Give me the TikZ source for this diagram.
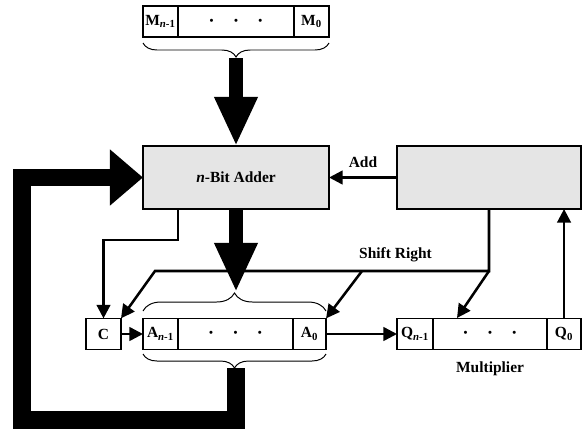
\documentclass[tikz,border=0pt]{standalone}
\usepackage{fontspec}
\setmainfont{Liberation Serif}
\usetikzlibrary{positioning,arrows.meta,decorations.pathreplacing}
\newcommand{\regdot}{\makebox[0pt]{\fontsize{8}{8}\selectfont\textbullet}}
\newcommand{\regdots}{\regdot\hspace{17.3pt}\regdot\hspace{17.3pt}\regdot}
\newcommand{\subn}[1]{\textsubscript{\textit{n}-#1}}
\begin{document}
\begin{tikzpicture}[x=0.025cm, y=-0.025cm,
    every node/.style={font=\fontsize{11}{13}\selectfont\bfseries},
    reg/.style={draw, line width=1pt, minimum height=0.78cm, inner sep=0pt, outer sep=0pt},
    unit/.style={draw, line width=1pt, fill=gray!20, minimum height=1.575cm, inner sep=0pt, outer sep=0pt},
    thinarr/.style={line width=1.8pt, -{Triangle[length=0.34cm, width=0.34cm]}},
    bigdown/.style={line width=0.36cm, -{Triangle[length=1.225cm, width=1cm]}},
    bigback/.style={line width=0.44cm, -{Triangle[length=0.825cm, width=1.35cm]}},
    brc/.style={decorate, line width=0.7pt}
]
\useasboundingbox (0,0) rectangle (582,429);

\node[reg, minimum width=0.875cm, anchor=west] (Mhi) at (143,21.5) {M\subn{1}};
\node[reg, minimum width=2.9cm, right=0pt of Mhi] (Mdots) {\regdots};
\node[reg, minimum width=0.875cm, right=0pt of Mdots] (Mlo) {M\textsubscript{0}};

\node[unit, minimum width=4.65cm] (Adder) at (236,177.5) {\textit{n}-Bit Adder};
\node[unit, minimum width=4.6cm] (Ctrl) at (489,177.5) {};

\node[reg, minimum width=0.875cm] (C) at (103.5,334) {C};
\node[reg, minimum width=0.875cm, anchor=west] (Ahi) at (143,334) {A\subn{1}};
\node[reg, minimum width=2.875cm, right=0pt of Ahi] (Adots) {\regdots};
\node[reg, minimum width=0.825cm, right=0pt of Adots] (Alo) {A\textsubscript{0}};

\node[reg, minimum width=0.9cm, anchor=west] (Qhi) at (397,334) {Q\subn{1}};
\node[reg, minimum width=2.85cm, right=0pt of Qhi] (Qdots) {\regdots};
\node[reg, minimum width=0.85cm, right=0pt of Qdots] (Qlo) {Q\textsubscript{0}};
\node[below=5pt of Qdots] (mlabel) {Multiplier};

\coordinate (mtip) at (236,58);
\coordinate (atop) at (236,292);
\coordinate (abot) at (236,368);
\coordinate (fbc) at (22,420);
\coordinate (srR) at (489,271);
\coordinate (srM) at (362,271);
\coordinate (srL) at (155,271);
\coordinate (qin) at (457,318);

\draw[brc, decoration={brace, mirror, amplitude=0.35cm}] (143,43) -- (329,43);
\draw[brc, decoration={brace, amplitude=0.45cm}] (143,311) -- (326,311);
\draw[brc, decoration={brace, mirror, amplitude=0.35cm}] (143,354) -- (326,354);

\draw[bigdown] (mtip) -- (Adder.north);
\draw[bigdown] (Adder.south) -- (atop);
\draw[bigback, line join=miter] (abot) |- (fbc) |- (Adder.west);

\draw[thinarr] (Ctrl.west) -- node[above=3pt] {Add} (Adder.east);
\draw[thinarr] (Adder.south -| Ahi.east) |- (C.north |- 0,240) -- (C.north);
\draw[thinarr] (Ctrl.south) -- (srR) -- node[above=2pt, pos=0.28] {Shift Right} (srL) -- (C.north east);
\draw[thinarr] (srM) -- (Alo.north east);
\draw[thinarr] (srR) -- (qin);
\draw[thinarr] (C) -- (Ahi);
\draw[thinarr] (Alo) -- (Qhi);
\draw[thinarr] (Qlo.north) -- (Ctrl.south -| Qlo.north);

\end{tikzpicture}
\end{document}
